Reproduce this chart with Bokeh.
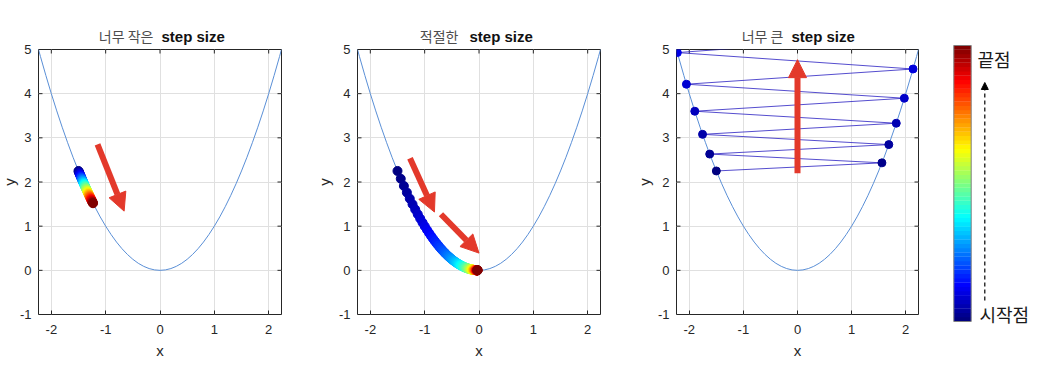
import math
from bokeh.plotting import figure
from bokeh.layouts import row, column
from bokeh.models import Range1d, Arrow, NormalHead
from bokeh.core.properties import value
from bokeh.embed import file_html
from bokeh.resources import INLINE

# ---------------- data ----------------
curve_x = [-2.3, -2.2, -2.1, -2.0, -1.9, -1.8, -1.7, -1.6, -1.5, -1.4, -1.3, -1.2, -1.1, -1.0,
           -0.9, -0.8, -0.7, -0.6, -0.5, -0.4, -0.3, -0.2, -0.1, 0.0, 0.1, 0.2, 0.3, 0.4, 0.5,
           0.6, 0.7, 0.8, 0.9, 1.0, 1.1, 1.2, 1.3, 1.4, 1.5, 1.6, 1.7, 1.8, 1.9, 2.0, 2.1, 2.2, 2.3]
curve_y = [5.29, 4.84, 4.41, 4.0, 3.61, 3.24, 2.89, 2.56, 2.25, 1.96, 1.69, 1.44, 1.21, 1.0,
           0.81, 0.64, 0.49, 0.36, 0.25, 0.16, 0.09, 0.04, 0.01, 0.0, 0.01, 0.04, 0.09, 0.16, 0.25,
           0.36, 0.49, 0.64, 0.81, 1.0, 1.21, 1.44, 1.69, 1.96, 2.25, 2.56, 2.89, 3.24, 3.61, 4.0,
           4.41, 4.84, 5.29]

# too small step size (50 steps)
small_x = [-1.5000, -1.4940, -1.4880, -1.4821, -1.4762, -1.4703, -1.4644, -1.4585, -1.4527, -1.4469,
           -1.4411, -1.4353, -1.4296, -1.4239, -1.4182, -1.4125, -1.4068, -1.4012, -1.3956, -1.3900,
           -1.3845, -1.3789, -1.3734, -1.3679, -1.3624, -1.3570, -1.3516, -1.3462, -1.3408, -1.3354,
           -1.3301, -1.3248, -1.3195, -1.3142, -1.3089, -1.3037, -1.2985, -1.2933, -1.2881, -1.2830,
           -1.2778, -1.2727, -1.2676, -1.2626, -1.2575, -1.2525, -1.2475, -1.2425, -1.2375, -1.2326]
small_y = [2.2500, 2.2320, 2.2141, 2.1966, 2.1792, 2.1618, 2.1445, 2.1272, 2.1103, 2.0935,
           2.0768, 2.0601, 2.0438, 2.0275, 2.0113, 1.9952, 1.9791, 1.9634, 1.9477, 1.9321,
           1.9168, 1.9014, 1.8862, 1.8711, 1.8561, 1.8414, 1.8268, 1.8123, 1.7977, 1.7833,
           1.7692, 1.7551, 1.7411, 1.7271, 1.7132, 1.6996, 1.6861, 1.6726, 1.6592, 1.6461,
           1.6328, 1.6198, 1.6068, 1.5942, 1.5813, 1.5688, 1.5563, 1.5438, 1.5314, 1.5193]

# proper step size (100 steps)
good_x = [-1.5, -1.44, -1.3824, -1.3271, -1.2740, -1.2231, -1.1741, -1.1272, -1.0821, -1.0388,
          -0.9973, -0.9574, -0.9191, -0.8823, -0.8470, -0.8131, -0.7806, -0.7494, -0.7194, -0.6906,
          -0.6630, -0.6365, -0.6110, -0.5866, -0.5631, -0.5406, -0.5190, -0.4982, -0.4783, -0.4592,
          -0.4408, -0.4232, -0.4062, -0.3900, -0.3744, -0.3594, -0.3450, -0.3312, -0.3180, -0.3053,
          -0.2930, -0.2813, -0.2701, -0.2593, -0.2489, -0.2389, -0.2294, -0.2202, -0.2114, -0.2029,
          -0.1948, -0.1870, -0.1796, -0.1724, -0.1655, -0.1589, -0.1525, -0.1464, -0.1406, -0.1349,
          -0.1295, -0.1244, -0.1194, -0.1146, -0.1100, -0.1056, -0.1014, -0.0973, -0.0934, -0.0897,
          -0.0861, -0.0827, -0.0794, -0.0762, -0.0731, -0.0702, -0.0674, -0.0647, -0.0621, -0.0596,
          -0.0573, -0.0550, -0.0528, -0.0507, -0.0486, -0.0467, -0.0448, -0.0430, -0.0413, -0.0397,
          -0.0381, -0.0365, -0.0351, -0.0337, -0.0323, -0.0310, -0.0298, -0.0286, -0.0275, -0.0264]
good_y = [2.25, 2.0736, 1.9110, 1.7612, 1.6231, 1.4959, 1.3786, 1.2705, 1.1709, 1.0791,
          0.9945, 0.9165, 0.8447, 0.7785, 0.7174, 0.6612, 0.6093, 0.5616, 0.5175, 0.4769,
          0.4396, 0.4051, 0.3733, 0.3441, 0.3171, 0.2922, 0.2694, 0.2482, 0.2288, 0.2109,
          0.1943, 0.1791, 0.1650, 0.1521, 0.1402, 0.1292, 0.1190, 0.1097, 0.1011, 0.0932,
          0.0858, 0.0791, 0.0730, 0.0672, 0.0620, 0.0571, 0.0526, 0.0485, 0.0447, 0.0412,
          0.0379, 0.0350, 0.0323, 0.0297, 0.0274, 0.0252, 0.0233, 0.0214, 0.0198, 0.0182,
          0.0168, 0.0155, 0.0143, 0.0131, 0.0121, 0.0112, 0.0103, 0.0095, 0.0087, 0.0080,
          0.0074, 0.0068, 0.0063, 0.0058, 0.0053, 0.0049, 0.0045, 0.0042, 0.0039, 0.0036,
          0.0033, 0.0030, 0.0028, 0.0026, 0.0024, 0.0022, 0.0020, 0.0018, 0.0017, 0.0016,
          0.0015, 0.0013, 0.0012, 0.0011, 0.0010, 0.0010, 0.0009, 0.0008, 0.0008, 0.0007]

# too large step size (diverging)
big_x = [-1.5, 1.56, -1.6224, 1.6873, -1.7548, 1.8250, -1.8980, 1.9739, -2.0528, 2.1350, -2.2204, 2.3092]
big_y = [2.25, 2.4336, 2.6322, 2.8469, 3.0793, 3.3306, 3.6023, 3.8963, 4.2140, 4.5582, 4.9301, 5.3324]
big_total_steps = 100

titles_kr = ["너무 작은", "적절한", "너무 큰"]
title_bold = "step size"
x_label = "x"
y_label = "y"
x_ticks = [-2, -1, 0, 1, 2]
y_ticks = [-1, 0, 1, 2, 3, 4, 5]
x_tick_labels = ["-2", "-1", "0", "1", "2"]
y_tick_labels = ["-1", "0", "1", "2", "3", "4", "5"]
cbar_levels = list(range(64))
cbar_top_label = "끝점"
cbar_bottom_label = "시작점"

# ---------------- style helpers ----------------
def jet(t):
    def c(v):
        return int(round(255 * min(max(v, 0.0), 1.0)))
    r = 1.5 - abs(4 * t - 3)
    g = 1.5 - abs(4 * t - 2)
    b = 1.5 - abs(4 * t - 1)
    return "#%02x%02x%02x" % (c(r), c(g), c(b))

AX = "#262626"
RED = "#e3392b"
XL = math.sqrt(5)
TOTAL_H = 365
STRIP_H = 47
MAIN_H = TOTAL_H - STRIP_H
FRAME_TOP = 49          # page y of the top of the axes box
FRAME_H = 265
BORDER_T = FRAME_TOP - STRIP_H
BORDER_B = MAIN_H - BORDER_T - FRAME_H
PX_Y = 6.0 / FRAME_H    # y data units per pixel
TICK_X = 4 / 54.3
TICK_Y = 4 * PX_Y
TITLE_Y = 11.5          # title anchor height inside the title strip

def blank(width, height, xr, yr, right=0):
    f = figure(width=width, height=height, x_range=xr, y_range=yr,
               output_backend="svg", toolbar_location=None, min_border=0,
               min_border_right=right, x_axis_location=None, y_axis_location=None)
    f.grid.visible = False
    f.outline_line_color = None
    return f

def make_panel(frame_w, border_right):
    p = figure(width=frame_w + border_right, height=MAIN_H,
               x_range=Range1d(-XL, XL), y_range=Range1d(-1, 5),
               output_backend="svg", toolbar_location=None,
               min_border_left=0, min_border_right=border_right,
               min_border_top=BORDER_T, min_border_bottom=BORDER_B)
    p.xaxis.ticker = x_ticks
    p.yaxis.ticker = y_ticks
    p.yaxis.visible = False
    p.xaxis.major_label_overrides = dict(zip(x_ticks, x_tick_labels))
    ax = p.xaxis[0]
    ax.axis_line_color = None
    ax.major_tick_in = 4
    ax.major_tick_out = 0
    ax.major_tick_line_color = AX
    ax.minor_tick_line_color = None
    ax.major_label_text_font = "Liberation Sans"
    ax.major_label_text_font_size = "13px"
    ax.major_label_text_color = AX
    ax.major_label_standoff = 10
    ax.axis_label = x_label
    ax.axis_label_text_font = "Liberation Sans"
    ax.axis_label_text_font_size = "15px"
    ax.axis_label_text_font_style = "normal"
    ax.axis_label_text_color = AX
    ax.axis_label_standoff = 5
    p.grid.grid_line_color = "#e0e0e0"
    p.outline_line_color = AX
    p.outline_line_width = 1
    p.outline_line_alpha = 1
    # inward ticks on top, left and right edges of the box
    n = len(x_ticks)
    m = len(y_ticks)
    p.segment(x0=x_ticks, x1=x_ticks, y0=[5] * n, y1=[5 - TICK_Y] * n, line_color=AX, line_width=1)
    p.segment(x0=[XL] * m, x1=[XL - TICK_X] * m, y0=y_ticks, y1=y_ticks, line_color=AX, line_width=1)
    p.segment(x0=[-XL] * m, x1=[-XL + TICK_X] * m, y0=y_ticks, y1=y_ticks, line_color=AX, line_width=1)
    p.line(curve_x, curve_y, line_color="#5a8fd6", line_width=1)
    return p

def yaxis_strip(width, label_cx):
    # full-height strip holding the y tick labels and the y axis label
    yr = Range1d(-1 - (TOTAL_H - FRAME_TOP - FRAME_H) * PX_Y, 5 + FRAME_TOP * PX_Y)
    f = blank(width, TOTAL_H, Range1d(0, width), yr)
    f.text(x=[width - 7] * len(y_ticks), y=y_ticks, text=y_tick_labels, text_align="right",
           text_baseline="middle", text_font=value("Liberation Sans"), text_font_size="13px",
           text_color=AX)
    f.text(x=[label_cx], y=[2], text=[y_label], angle=math.pi / 2, text_align="center",
           text_baseline="middle", text_font=value("Liberation Sans"), text_font_size="15px",
           text_color=AX)
    return f

def title_strip(frame_w, border_right, kr, kr_right, bold_left):
    t = blank(frame_w + border_right, STRIP_H, Range1d(0, frame_w), Range1d(0, STRIP_H),
              right=border_right)
    t.text(x=[kr_right], y=[TITLE_Y], text=[kr], text_align="right",
           text_baseline="alphabetic", text_font=value("Noto Sans CJK KR"),
           text_font_size="14px", text_color="#4d4d4d")
    t.text(x=[bold_left], y=[TITLE_Y], text=[title_bold], text_align="left",
           text_baseline="alphabetic", text_font=value("Liberation Sans"),
           text_font_style="bold", text_font_size="15px", text_color="#111111")
    return t

def red_arrow(p, xs, ys, xe, ye):
    p.add_layout(Arrow(end=NormalHead(size=18, fill_color=RED, line_color=RED, line_width=1),
                       x_start=xs, y_start=ys, x_end=xe, y_end=ye,
                       line_color=RED, line_width=6))

# panel 1 : frame page x 38..281
ys1 = yaxis_strip(38, 8.5)
p1 = make_panel(243, 30)
c1 = [jet(i / (len(small_x) - 1)) for i in range(len(small_x))]
p1.scatter(small_x, small_y, size=9, fill_color=c1, line_color=c1)
red_arrow(p1, -1.15, 2.85, -0.66, 1.34)
t1 = title_strip(243, 30, titles_kr[0], 115, 123)

# panel 2 : frame page x 357..600
ys2 = yaxis_strip(46, 13)
p2 = make_panel(243, 30)
c2 = [jet(i / (len(good_x) - 1)) for i in range(len(good_x))]
p2.scatter(good_x, good_y, size=9, fill_color=c2, line_color=c2)
red_arrow(p2, -1.27, 2.54, -0.82, 1.32)
red_arrow(p2, -0.70, 1.27, 0.0, 0.39)
t2 = title_strip(243, 30, titles_kr[1], 101, 112)

# panel 3 : frame page x 676..918
ys3 = yaxis_strip(46, 13.5)
p3 = make_panel(242, 7)
c3 = [jet(i / (big_total_steps - 1)) for i in range(len(big_x))]
p3.line(big_x, big_y, line_color="#2a1fc2", line_width=0.8)
p3.scatter(big_x, big_y, size=8, fill_color=c3, line_color=c3)
red_arrow(p3, 0.0, 2.2, 0.0, 4.77)
t3 = title_strip(242, 7, titles_kr[2], 107, 115)

# colorbar panel
CB_W, CB_H = 115, TOTAL_H
p4 = blank(CB_W, CB_H, Range1d(0, CB_W), Range1d(0, CB_H))
cb_top, cb_bottom = CB_H - 45.0, CB_H - 321.0
h = (cb_top - cb_bottom) / len(cbar_levels)
p4.quad(left=28.3, right=45.7,
        bottom=[cb_bottom + i * h for i in cbar_levels],
        top=[cb_bottom + (i + 1) * h + 0.3 for i in cbar_levels],
        fill_color=[jet(i / (len(cbar_levels) - 1)) for i in cbar_levels], line_color=None)
p4.quad(left=28.3, right=45.7, bottom=cb_bottom, top=cb_top, fill_color=None,
        line_color="#808080", line_width=1)
p4.text(x=[52], y=[CB_H - 58], text=[cbar_top_label], text_baseline="middle", text_align="left",
        text_font=value("Noto Sans CJK KR"), text_font_size="18px", text_color="#1a1a1a")
p4.text(x=[54], y=[CB_H - 313], text=[cbar_bottom_label], text_baseline="middle", text_align="left",
        text_font=value("Noto Sans CJK KR"), text_font_size="18px", text_color="#1a1a1a")
p4.add_layout(Arrow(end=NormalHead(size=7, fill_color="black", line_color="black", line_width=1),
                    x_start=59.3, y_start=CB_H - 300, x_end=59.3, y_end=CB_H - 82,
                    line_color="black", line_width=1.2, line_dash="4 3"))

layout = row(ys1, column(t1, p1), ys2, column(t2, p2), ys3, column(t3, p3), p4)
open("out.html", "w").write(file_html(layout, INLINE))
